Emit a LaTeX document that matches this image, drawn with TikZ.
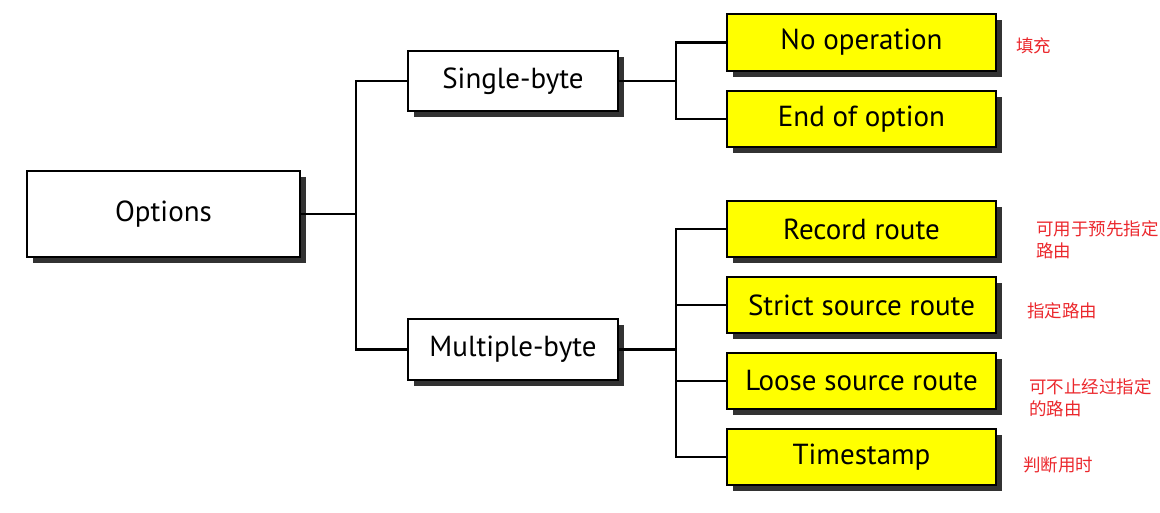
\documentclass[tikz,border=0pt]{standalone}
\usepackage{fontspec}
\setmainfont{PT Sans}
\newfontfamily\cjk{Noto Sans CJK SC}
\definecolor{boxyellow}{RGB}{255,255,0}
\definecolor{shadowgray}{RGB}{50,50,50}
\definecolor{notered}{RGB}{235,40,45}
\begin{document}
\begin{tikzpicture}[x=1pt,y=-1pt,
  base/.style={draw=black,line width=1.8pt,inner sep=0pt,outer sep=0pt,anchor=north west,
    font=\fontsize{29}{34}\selectfont},
  whitebox/.style={base,fill=white},
  yellowbox/.style={base,fill=boxyellow,minimum width=269pt,minimum height=56pt},
  conn/.style={draw=black,line width=2.2pt},
  note/.style={font=\cjk\fontsize{17.5}{22}\selectfont,text=notered,anchor=west,align=left,inner sep=0pt}]
\useasboundingbox (0,0) rectangle (1160,512);
% shadows
\foreach \a/\b/\c/\d in {27/171/300/257, 408/51/618/111, 408/319/618/380,
  727/14/996/71, 727/91/996/147, 727/201/996/257, 727/277/996/333, 727/353/996/409, 727/429/996/485}
  {\fill[shadowgray] (\a+6,\b+6) rectangle (\c+6,\d+6);}
% nodes
\node[whitebox,minimum width=273pt,minimum height=86pt] (opt) at (27,171) {Options};
\node[whitebox,minimum width=210pt,minimum height=60pt] (sb) at (408,51) {Single-byte};
\node[whitebox,minimum width=210pt,minimum height=61pt] (mb) at (408,319) {Multiple-byte};
\node[yellowbox,minimum height=57pt] (nop) at (727,14) {No operation};
\node[yellowbox] (eoo) at (727,91) {End of option};
\node[yellowbox] (rr) at (727,201) {Record route};
\node[yellowbox] (ssr) at (727,277) {Strict source route};
\node[yellowbox] (lsr) at (727,353) {Loose source route};
\node[yellowbox] (ts) at (727,429) {Timestamp};
% junction coordinates
\path (opt.east) ++(56,0) coordinate (j1);
\path (sb.east) ++(58,0) coordinate (j2);
\path (mb.east) ++(58,0) coordinate (j3);
% connectors
\draw[conn] (opt.east) -- (j1);
\draw[conn] (sb.west) -| (j1) |- (mb.west);
\draw[conn] (sb.east) -- (j2);
\draw[conn] (nop.west) -| (j2) |- (eoo.west);
\draw[conn] (mb.east) -- (j3);
\draw[conn] (rr.west) -| (j3) |- (ts.west);
\draw[conn] (ssr.west) -- (ssr.west -| j3);
\draw[conn] (lsr.west) -- (lsr.west -| j3);
% notes
\node[note] (n1) at (1016,46) {填充};
\node[note] (n2) at (1036,240) {可用于预先指定\\路由};
\node[note] (n3) at (1027,311) {指定路由};
\node[note] (n4) at (1029,398) {可不止经过指定\\的路由};
\node[note] (n5) at (1023,465) {判断用时};
\end{tikzpicture}
\end{document}
